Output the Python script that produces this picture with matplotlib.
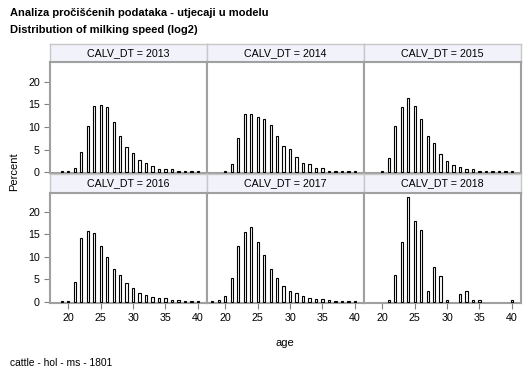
import matplotlib
matplotlib.use("Agg")
import matplotlib.pyplot as plt

plt.rcParams['font.family'] = ['Liberation Sans', 'DejaVu Sans']

W, H = 529, 378

years = [2013, 2014, 2015, 2016, 2017, 2018]

ages_2013 = [19, 20, 21, 22, 23, 24, 25, 26, 27, 28, 29, 30, 31, 32, 33, 34, 35, 36, 37, 38, 39, 40]
pct_2013 = [0.2, 0.2, 1.0, 4.4, 10.2, 14.6, 14.8, 14.4, 11.1, 8.0, 5.6, 4.2, 2.7, 2.1, 1.5, 0.7, 0.7, 0.7, 0.3, 0.2, 0.3, 0.2]

ages_2014 = [20, 21, 22, 23, 24, 25, 26, 27, 28, 29, 30, 31, 32, 33, 34, 35, 36, 37, 38, 39, 40]
pct_2014 = [0.2, 1.8, 7.5, 12.9, 12.9, 12.2, 11.8, 10.4, 8.0, 5.8, 5.2, 3.4, 2.1, 1.8, 0.9, 1.0, 0.4, 0.3, 0.2, 0.2, 0.2]

ages_2015 = [20, 21, 22, 23, 24, 25, 26, 27, 28, 29, 30, 31, 32, 33, 34, 35, 36, 37, 38, 39, 40]
pct_2015 = [0.2, 3.2, 10.3, 14.5, 16.3, 14.7, 11.8, 8.0, 6.4, 4.0, 2.6, 1.6, 1.1, 0.7, 0.7, 0.3, 0.3, 0.3, 0.3, 0.3, 0.3]

ages_2016 = [19, 20, 21, 22, 23, 24, 25, 26, 27, 28, 29, 30, 31, 32, 33, 34, 35, 36, 37, 38, 39, 40]
pct_2016 = [0.2, 0.2, 4.5, 14.2, 15.8, 15.4, 12.5, 10.0, 7.4, 5.9, 4.1, 3.1, 1.9, 1.5, 1.1, 0.9, 0.8, 0.4, 0.4, 0.2, 0.2, 0.2]

ages_2017 = [18, 19, 20, 21, 22, 23, 24, 25, 26, 27, 28, 29, 30, 31, 32, 33, 34, 35, 36, 37, 38, 39, 40]
pct_2017 = [0.2, 0.3, 1.3, 5.2, 12.5, 15.6, 16.7, 13.4, 10.3, 7.4, 5.2, 3.5, 2.5, 1.9, 1.2, 0.8, 0.6, 0.6, 0.4, 0.2, 0.2, 0.2, 0.2]

ages_2018 = [21, 22, 23, 24, 25, 26, 27, 28, 29, 30, 32, 33, 34, 35, 40]
pct_2018 = [0.5, 5.9, 13.4, 23.3, 17.9, 16.0, 2.5, 7.7, 5.8, 0.5, 1.8, 2.5, 0.5, 0.5, 0.5]

data = {
    2013: (ages_2013, pct_2013),
    2014: (ages_2014, pct_2014),
    2015: (ages_2015, pct_2015),
    2016: (ages_2016, pct_2016),
    2017: (ages_2017, pct_2017),
    2018: (ages_2018, pct_2018),
}

xticks = [20, 25, 30, 35, 40]
yticks = [0, 5, 10, 15, 20]

fig = plt.figure(figsize=(W / 100, H / 100), dpi=100)
fig.patch.set_facecolor('white')


def rect(x0, y0, x1, y1):
    return [x0 / W, 1 - y1 / H, (x1 - x0) / W, (y1 - y0) / H]


cols = [(50, 207), (207, 364), (364, 521)]
rows_plot = [(62, 173.3), (192.5, 302.7)]
rows_head = [(44, 62), (174.3, 192.5)]

frame_col = '#A0A0A0'

for i, yr in enumerate(years):
    r, c = divmod(i, 3)
    x0, x1 = cols[c]
    hy0, hy1 = rows_head[r]
    py0, py1 = rows_plot[r]

    hax = fig.add_axes(rect(x0, hy0, x1, hy1))
    hax.set_facecolor('#F2F3FA')
    hax.set_xticks([])
    hax.set_yticks([])
    for s in hax.spines.values():
        s.set_color('#C8C8C8')
        s.set_linewidth(1.0)
    hax.text(0.5, 0.5, f'CALV_DT = {yr}', ha='center', va='center',
             fontsize=7.7, transform=hax.transAxes)

    ax = fig.add_axes(rect(x0, py0, x1, py1))
    a, p = data[yr]
    ax.bar(a, p, width=0.33, color='white', edgecolor='black', linewidth=0.8,
           zorder=3)
    ax.set_xlim(17.2, 41.4)
    ax.set_ylim(-0.2, 24.3)
    ax.set_xticks(xticks)
    ax.set_yticks(yticks)
    for s in ax.spines.values():
        s.set_color(frame_col)
        s.set_linewidth(1.5)
    ax.tick_params(direction='out', length=4.3, width=0.8, color='#808080',
                   labelsize=7.7, pad=3)
    if c != 0:
        ax.tick_params(axis='y', left=False, labelleft=False)
    if r != 1:
        ax.tick_params(axis='x', bottom=False, labelbottom=False)

fig.text(10 / W, 1 - 13 / H, 'Analiza pročišćenih podataka - utjecaji u modelu',
         fontsize=8, fontweight='bold', ha='left', va='center')
fig.text(10 / W, 1 - 30 / H, 'Distribution of milking speed (log2)',
         fontsize=8, fontweight='bold', ha='left', va='center')
fig.text(14 / W, 1 - 172 / H, 'Percent', rotation=90, fontsize=8,
         ha='center', va='center')
fig.text(285 / W, 1 - 343 / H, 'age', fontsize=8, ha='center', va='center')
fig.text(10 / W, 1 - 363 / H, 'cattle - hol - ms - 1801', fontsize=7.4,
         ha='left', va='center')

fig.savefig('out.png', dpi=100, facecolor='white')
